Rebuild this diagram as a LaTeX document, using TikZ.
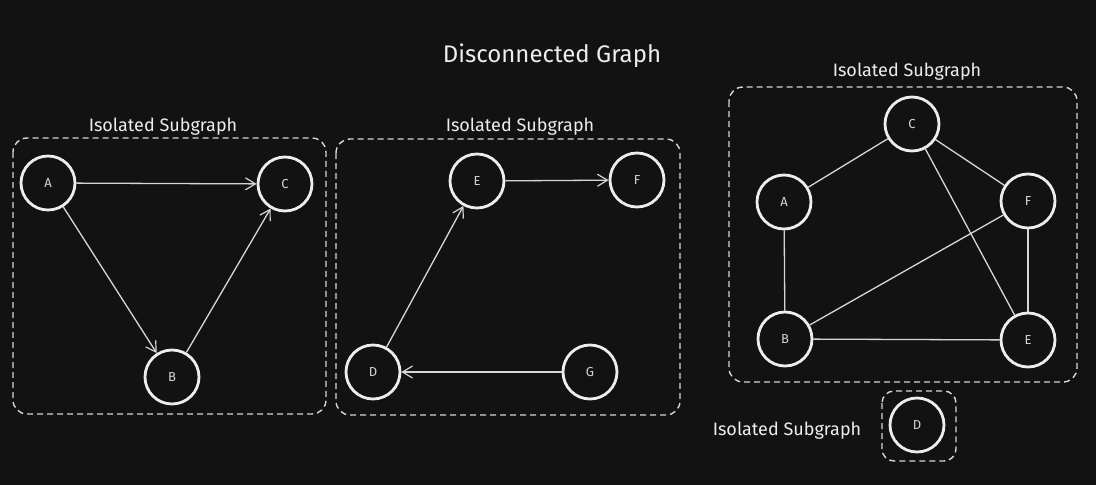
\documentclass[tikz,border=0pt]{standalone}
\usepackage{xcolor}
\usepackage{fontspec}
\setmainfont{Fira Sans}
\usetikzlibrary{arrows.meta}
\usetikzlibrary{positioning}
\definecolor{bgdark}{HTML}{121212}
\definecolor{chalk}{HTML}{EDEDED}
\definecolor{chalkdim}{HTML}{D6D6D6}

\begin{document}
\begin{tikzpicture}[x=1pt,y=-1pt,
    >={Straight Barb[length=10pt,width=12pt,line width=1.2pt]},
    vertex/.style={circle,draw=chalk,line width=2.8pt,minimum size=54pt,inner sep=0pt,
      text=chalkdim,font=\fontsize{13}{13}\selectfont\fontseries{l}\selectfont},
    link/.style={draw=chalkdim,line width=1.3pt},
    group/.style={draw=chalkdim,line width=1.4pt,dash pattern=on 6pt off 4pt,rounded corners=14pt},
    caption/.style={text=chalk,font=\fontsize{18}{20}\selectfont}]

    % BACKGROUND
    \fill[bgdark] (0,0) rectangle (1096,485);
    \useasboundingbox (0,0) rectangle (1096,485);

    \node[text=chalk,font=\fontsize{24}{26}\selectfont] (title) at (552,56) {Disconnected Graph};

    % LEFT SUBGRAPH
    \draw[group] (13,138) rectangle (326,414);
    \node[caption] (capL) at (163,127) {Isolated Subgraph};
    \node[vertex] (lA) at (48,183) {A};
    \node[vertex] (lC) at (285,184) {C};
    \node[vertex] (lB) at (172,377) {B};
    \draw[link,->] (lA) -- (lC);
    \draw[link,->] (lA) -- (lB);
    \draw[link,->] (lB) -- (lC);

    % MIDDLE SUBGRAPH
    \draw[group] (336,139) rectangle (680,415);
    \node[caption] (capM) at (520,127) {Isolated Subgraph};
    \node[vertex] (mE) at (477,181) {E};
    \node[vertex] (mF) at (637,180) {F};
    \node[vertex] (mD) at (373,372) {D};
    \node[vertex] (mG) at (590,372) {G};
    \draw[link,->] (mE) -- (mF);
    \draw[link,->] (mD) -- (mE);
    \draw[link,->] (mG) -- (mD);

    % RIGHT SUBGRAPH
    \draw[group] (729,87) rectangle (1077,382);
    \node[caption] (capR) at (907,72) {Isolated Subgraph};
    \node[vertex] (rC) at (912,124) {C};
    \node[vertex] (rA) at (784,202) {A};
    \node[vertex] (rF) at (1028,201) {F};
    \node[vertex] (rB) at (785,339) {B};
    \node[vertex] (rE) at (1028,340) {E};
    \draw[link] (rC) -- (rA);
    \draw[link] (rC) -- (rF);
    \draw[link] (rC) -- (rE);
    \draw[link] (rA) -- (rB);
    \draw[link] (rF) -- (rB);
    \draw[link] (rF) -- (rE);
    \draw[link] (rB) -- (rE);

    % SINGLE NODE
    \draw[group,rounded corners=12pt] (882,391) rectangle (956,461);
    \node[caption] (capS) at (787,431) {Isolated Subgraph};
    \node[vertex] (sD) at (917,425) {D};
  \end{tikzpicture}
\end{document}
